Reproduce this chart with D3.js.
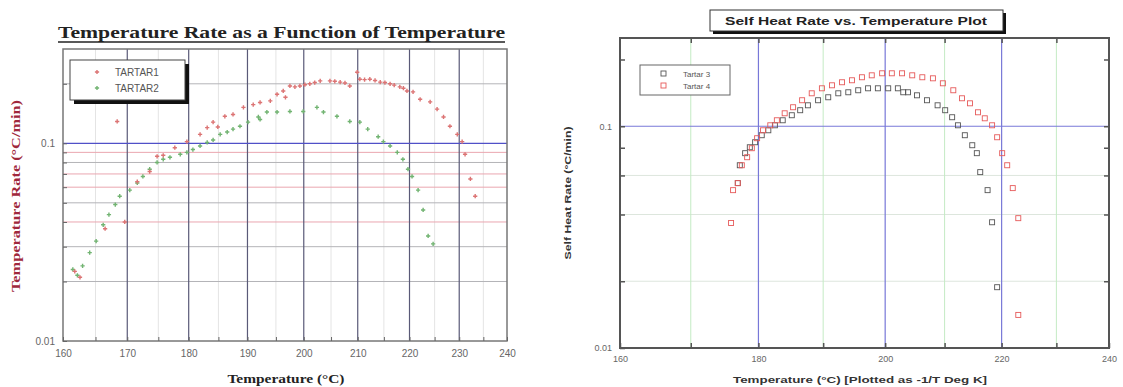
<!DOCTYPE html>
<html>
<head>
<meta charset="utf-8">
<script src="https://cdn.jsdelivr.net/npm/d3@7"></script>
<style>
  body { margin: 0; background: #fff; }
  svg { display: block; }
</style>
</head>
<body>
<svg id="chart" width="1123" height="387"></svg>
<script>
// ---- data (temperature in degC, rate in degC/min) ----
const xTicksLeft = [160, 170, 180, 190, 200, 210, 220, 230, 240];
const xTicksRight = [160, 180, 200, 220, 240];

const tartar1 = [
  [161.8, 0.0225], [162.6, 0.021], [166.5, 0.037], [168.4, 0.129], [169.6, 0.040],
  [171.6, 0.064], [173.6, 0.072], [174.8, 0.086], [175.8, 0.087], [177.7, 0.095],
  [179.7, 0.102], [181.9, 0.111], [183.1, 0.120], [184.1, 0.128], [184.9, 0.121],
  [186.1, 0.137], [187.5, 0.140], [189.3, 0.152], [191.0, 0.157], [192.2, 0.161],
  [194.0, 0.164], [195.2, 0.177], [196.3, 0.184], [196.7, 0.171], [197.5, 0.195],
  [198.4, 0.193], [199.3, 0.195], [200.2, 0.198], [201.1, 0.200], [202.0, 0.203],
  [203.0, 0.207], [204.8, 0.207], [205.7, 0.206], [206.7, 0.204], [207.6, 0.202],
  [208.5, 0.195], [209.9, 0.229], [210.4, 0.211], [211.3, 0.210], [212.3, 0.211],
  [213.3, 0.208], [214.3, 0.204], [215.2, 0.203], [216.2, 0.200], [217.0, 0.197],
  [218.1, 0.193], [218.8, 0.190], [219.5, 0.184], [220.7, 0.182], [222.1, 0.167],
  [224.1, 0.162], [225.5, 0.149], [226.8, 0.136], [228.1, 0.122], [229.6, 0.111],
  [230.6, 0.102], [231.2, 0.088], [232.3, 0.066], [233.3, 0.054]
];

const tartar2 = [
  [161.5, 0.023], [162.2, 0.0215], [163.0, 0.024], [164.1, 0.028], [165.1, 0.032],
  [166.2, 0.0387], [167.1, 0.0436], [168.1, 0.049], [168.8, 0.054], [170.4, 0.058],
  [171.6, 0.063], [172.5, 0.068], [173.6, 0.074], [174.8, 0.080], [175.8, 0.083],
  [176.9, 0.085], [178.6, 0.088], [179.7, 0.090], [180.7, 0.093], [181.9, 0.097],
  [183.1, 0.101], [184.1, 0.104], [185.3, 0.111], [186.5, 0.114], [187.5, 0.118],
  [188.7, 0.122], [190.1, 0.128], [191.9, 0.136], [192.2, 0.132], [193.4, 0.144],
  [195.2, 0.144], [197.5, 0.145], [199.9, 0.145], [202.4, 0.152], [203.6, 0.144],
  [206.1, 0.137], [208.5, 0.129], [210.4, 0.128], [211.9, 0.118], [213.9, 0.108],
  [214.9, 0.102], [216.2, 0.097], [217.6, 0.090], [218.7, 0.083], [219.7, 0.074],
  [220.5, 0.068], [221.7, 0.058], [222.7, 0.046], [223.7, 0.034], [224.7, 0.031]
];

const tartar3 = [
  [176.9, 0.0554], [177.2, 0.0667], [178.0, 0.0756], [178.7, 0.0804], [179.5, 0.0847],
  [180.5, 0.0911], [181.5, 0.0959], [182.5, 0.101], [183.7, 0.1064], [185.1, 0.1121],
  [186.4, 0.1181], [187.6, 0.1243], [189.2, 0.1310], [190.8, 0.1351], [192.4, 0.1408],
  [194.0, 0.1423], [195.6, 0.1453], [197.2, 0.1483], [198.8, 0.1483], [200.5, 0.1483],
  [202.1, 0.1483], [203.0, 0.1423], [203.8, 0.1423], [205.3, 0.1379], [207.0, 0.1310],
  [208.8, 0.1243], [210.1, 0.1181], [211.3, 0.1098], [212.3, 0.1010], [213.5, 0.0911],
  [214.8, 0.0821], [215.6, 0.0756], [216.2, 0.0621], [217.5, 0.0515], [218.3, 0.0369],
  [219.2, 0.0188]
];

const tartar4 = [
  [175.9, 0.0366], [176.2, 0.0515], [176.9, 0.0554], [177.5, 0.0667], [178.3, 0.0725],
  [179.0, 0.0796], [179.8, 0.0883], [180.7, 0.0959], [181.8, 0.101], [182.8, 0.1064],
  [184.0, 0.1144], [185.3, 0.1218], [186.7, 0.1310], [188.2, 0.1408], [189.8, 0.1483],
  [191.4, 0.1530], [193.0, 0.1579], [194.6, 0.1612], [196.2, 0.1663], [197.8, 0.1697],
  [199.5, 0.1733], [201.1, 0.1733], [202.8, 0.1733], [204.5, 0.1697], [206.2, 0.1663],
  [208.0, 0.1645], [209.7, 0.1562], [211.5, 0.1453], [213.0, 0.1337], [214.4, 0.1269],
  [215.8, 0.1156], [217.0, 0.1086], [218.3, 0.1010], [219.2, 0.0892], [220.1, 0.0756],
  [221.0, 0.0667], [222.0, 0.0526], [223.0, 0.0385], [223.0, 0.0141]
];

// ---- helpers ----
const svg = d3.select('#chart');

// x axes are plotted as -1/T (Kelvin), labelled in degC
const invT = t => -1 / (t + 273.15);

function tempScale(lin) {
  const s = t => lin(invT(t));
  s.range = () => lin.range();
  s.domain = () => [160, 240];
  s.copy = () => tempScale(lin.copy());
  return s;
}

function range(a, b, step) {
  const out = [];
  for (let v = a; v <= b + 1e-9; v += step) out.push(+v.toFixed(4));
  return out;
}

// ================= left chart =================
(function leftChart() {
  const m = { left: 63, right: 507, top: 49, bottom: 341 };
  const x = tempScale(d3.scaleLinear().domain([invT(160), invT(240)]).range([m.left, m.right]));
  const y = d3.scaleLog().domain([0.01, 0.3]).range([m.bottom, m.top]);
  const g = svg.append('g');

  // faint minor verticals
  g.selectAll('.vminor').data(range(165, 235, 10)).enter().append('line')
    .attr('x1', d => x(d)).attr('x2', d => x(d))
    .attr('y1', m.top).attr('y2', m.bottom)
    .attr('stroke', '#e4e4e4').attr('stroke-width', 1);

  const pinks = [0.09, 0.07, 0.06, 0.04];
  const greys = [0.08, 0.05, 0.03, 0.02, 0.2];
  g.selectAll('.hp').data(pinks).enter().append('line')
    .attr('x1', m.left).attr('x2', m.right)
    .attr('y1', d => y(d)).attr('y2', d => y(d))
    .attr('stroke', '#eaa6b0').attr('stroke-width', 1);
  g.selectAll('.hg').data(greys).enter().append('line')
    .attr('x1', m.left).attr('x2', m.right)
    .attr('y1', d => y(d)).attr('y2', d => y(d))
    .attr('stroke', '#b4b4b8').attr('stroke-width', 1);

  // major verticals
  g.selectAll('.vmajor').data(xTicksLeft.slice(1, -1)).enter().append('line')
    .attr('x1', d => x(d)).attr('x2', d => x(d))
    .attr('y1', m.top).attr('y2', m.bottom)
    .attr('stroke', '#5a5a78').attr('stroke-width', 1.2);

  g.append('line')
    .attr('x1', m.left).attr('x2', m.right)
    .attr('y1', y(0.1)).attr('y2', y(0.1))
    .attr('stroke', '#5050c8').attr('stroke-width', 1.3);

  // frame
  g.append('rect')
    .attr('x', m.left).attr('y', m.top)
    .attr('width', m.right - m.left).attr('height', m.bottom - m.top)
    .attr('fill', 'none').attr('stroke', '#777').attr('stroke-width', 1.5);

  // axes
  const xAxis = g.append('g')
    .attr('transform', `translate(0, ${m.bottom})`)
    .call(d3.axisBottom(x).tickValues(range(160, 240, 5)).tickSize(-4).tickPadding(9)
      .tickFormat(d => d % 10 === 0 ? d : ''));
  xAxis.select('.domain').remove();
  xAxis.selectAll('line').attr('stroke', '#666');
  xAxis.selectAll('text').attr('font-family', 'Arial, "Liberation Sans", sans-serif')
    .attr('font-size', 10).attr('fill', '#666');

  const yAxis = g.append('g')
    .attr('transform', `translate(${m.left}, 0)`)
    .call(d3.axisLeft(y).tickValues([0.01, 0.02, 0.03, 0.04, 0.05, 0.06, 0.07, 0.08, 0.09, 0.1, 0.2])
      .tickSize(-4).tickPadding(8)
      .tickFormat(d => d === 0.1 ? '0.1' : d === 0.01 ? '0.01' : ''));
  yAxis.select('.domain').remove();
  yAxis.selectAll('line').attr('stroke', '#666');
  yAxis.selectAll('text').attr('font-family', 'Arial, "Liberation Sans", sans-serif')
    .attr('font-size', 10).attr('fill', '#666');

  // data markers (small crosses)
  const cross = d3.symbol().type(d3.symbolCross).size(10);
  g.selectAll('.t2').data(tartar2).enter().append('path')
    .attr('d', cross)
    .attr('transform', d => `translate(${x(d[0])}, ${y(d[1])})`)
    .attr('fill', '#72b472');
  g.selectAll('.t1').data(tartar1).enter().append('path')
    .attr('d', cross)
    .attr('transform', d => `translate(${x(d[0])}, ${y(d[1])})`)
    .attr('fill', '#dc7474');

  // legend
  const lg = g.append('g');
  lg.append('rect').attr('x', 74).attr('y', 64).attr('width', 115).attr('height', 40).attr('fill', '#111');
  lg.append('rect').attr('x', 70).attr('y', 60).attr('width', 115).attr('height', 40)
    .attr('fill', '#fff').attr('stroke', '#444').attr('stroke-width', 1);
  [['TARTAR1', '#dc7474'], ['TARTAR2', '#72b472']].forEach((e, i) => {
    lg.append('path').attr('d', cross).attr('fill', e[1])
      .attr('transform', `translate(97, ${72 + i * 16})`);
    lg.append('text').attr('x', 115).attr('y', 76 + i * 16)
      .attr('font-family', 'Arial, "Liberation Sans", sans-serif').attr('font-size', 10)
      .attr('fill', '#555').text(e[0]);
  });

  // titles
  g.append('text').attr('x', 58).attr('y', 38)
    .attr('font-family', '"Liberation Serif", "Times New Roman", serif')
    .attr('font-weight', 'bold').attr('font-size', 17)
    .attr('textLength', 447).attr('lengthAdjust', 'spacingAndGlyphs')
    .attr('fill', '#222')
    .text('Temperature Rate as a Function of Temperature');
  g.append('line').attr('x1', 58).attr('x2', 505).attr('y1', 42).attr('y2', 42)
    .attr('stroke', '#222').attr('stroke-width', 1.3);

  g.append('text').attr('transform', 'translate(20, 196) rotate(-90)')
    .attr('text-anchor', 'middle')
    .attr('font-family', '"Liberation Serif", "Times New Roman", serif')
    .attr('font-weight', 'bold').attr('font-size', 12)
    .attr('textLength', 192).attr('lengthAdjust', 'spacingAndGlyphs')
    .attr('fill', '#a0283c')
    .text('Temperature Rate (°C/min)');

  g.append('text').attr('x', 286).attr('y', 383)
    .attr('text-anchor', 'middle')
    .attr('font-family', '"Liberation Serif", "Times New Roman", serif')
    .attr('font-weight', 'bold').attr('font-size', 12)
    .attr('textLength', 117).attr('lengthAdjust', 'spacingAndGlyphs')
    .attr('fill', '#222')
    .text('Temperature (°C)');
})();

// ================= right chart =================
(function rightChart() {
  const m = { left: 620, right: 1109, top: 38, bottom: 348 };
  const x = tempScale(d3.scaleLinear().domain([invT(160), invT(240)]).range([m.left, m.right]));
  const y = d3.scaleLog().domain([0.01, 0.25]).range([m.bottom, m.top]);
  const g = svg.append('g');

  g.selectAll('.hpale').data([0.02, 0.04, 0.06]).enter().append('line')
    .attr('x1', m.left).attr('x2', m.right)
    .attr('y1', d => y(d)).attr('y2', d => y(d))
    .attr('stroke', '#dde6dd').attr('stroke-width', 1);

  g.selectAll('.vpale').data([170, 190, 210, 230]).enter().append('line')
    .attr('x1', d => x(d)).attr('x2', d => x(d))
    .attr('y1', m.top).attr('y2', m.bottom)
    .attr('stroke', '#c4ebc4').attr('stroke-width', 1);

  g.selectAll('.vblue').data([180, 200, 220]).enter().append('line')
    .attr('x1', d => x(d)).attr('x2', d => x(d))
    .attr('y1', m.top).attr('y2', m.bottom)
    .attr('stroke', '#7878d8').attr('stroke-width', 1.2);

  g.append('line')
    .attr('x1', m.left).attr('x2', m.right)
    .attr('y1', y(0.1)).attr('y2', y(0.1))
    .attr('stroke', '#7878d8').attr('stroke-width', 1.2);

  g.append('rect')
    .attr('x', m.left).attr('y', m.top)
    .attr('width', m.right - m.left).attr('height', m.bottom - m.top)
    .attr('fill', 'none').attr('stroke', '#555').attr('stroke-width', 2);

  const font = 'Arial, "Liberation Sans", sans-serif';

  const xAxis = g.append('g')
    .attr('transform', `translate(0, ${m.bottom})`)
    .call(d3.axisBottom(x).tickValues(range(160, 240, 10)).tickSize(-5).tickPadding(8)
      .tickFormat(d => xTicksRight.includes(d) ? d : ''));
  xAxis.select('.domain').remove();
  xAxis.selectAll('line').attr('stroke', '#555').attr('stroke-width', 1.5);
  xAxis.selectAll('text').attr('font-family', font).attr('font-size', 9).attr('fill', '#666');

  const xTop = g.append('g')
    .attr('transform', `translate(0, ${m.top})`)
    .call(d3.axisTop(x).tickValues(range(170, 230, 10)).tickSize(-5).tickFormat(''));
  xTop.select('.domain').remove();
  xTop.selectAll('line').attr('stroke', '#555').attr('stroke-width', 1.5);

  const yTicks = [0.02, 0.04, 0.06, 0.08, 0.1, 0.2];
  const yAxis = g.append('g')
    .attr('transform', `translate(${m.left}, 0)`)
    .call(d3.axisLeft(y).tickValues([0.01].concat(yTicks)).tickSize(-5).tickPadding(8)
      .tickFormat(d => d === 0.1 ? '0.1' : d === 0.01 ? '0.01' : ''));
  yAxis.select('.domain').remove();
  yAxis.selectAll('line').attr('stroke', '#555').attr('stroke-width', 1.5);
  yAxis.selectAll('text').attr('font-family', font).attr('font-size', 9).attr('fill', '#666');

  const yRight = g.append('g')
    .attr('transform', `translate(${m.right}, 0)`)
    .call(d3.axisRight(y).tickValues(yTicks).tickSize(-5).tickFormat(''));
  yRight.select('.domain').remove();
  yRight.selectAll('line').attr('stroke', '#555').attr('stroke-width', 1.5);

  // open square markers
  const sq = 5;
  g.selectAll('.t3').data(tartar3).enter().append('rect')
    .attr('x', d => x(d[0]) - sq / 2).attr('y', d => y(d[1]) - sq / 2)
    .attr('width', sq).attr('height', sq)
    .attr('fill', 'none').attr('stroke', '#555').attr('stroke-width', 0.9);
  g.selectAll('.t4').data(tartar4).enter().append('rect')
    .attr('x', d => x(d[0]) - sq / 2).attr('y', d => y(d[1]) - sq / 2)
    .attr('width', sq).attr('height', sq)
    .attr('fill', 'none').attr('stroke', '#e65a5a').attr('stroke-width', 0.9);

  // legend
  const lg = g.append('g');
  lg.append('rect').attr('x', 640).attr('y', 65).attr('width', 90).attr('height', 30)
    .attr('fill', '#fff').attr('stroke', '#666').attr('stroke-width', 1);
  [['Tartar 3', '#555'], ['Tartar 4', '#e65a5a']].forEach((e, i) => {
    lg.append('rect').attr('x', 661).attr('y', 71 + i * 12).attr('width', sq).attr('height', sq)
      .attr('fill', 'none').attr('stroke', e[1]).attr('stroke-width', 0.9);
    lg.append('text').attr('x', 683).attr('y', 77 + i * 12)
      .attr('font-family', font).attr('font-size', 8).attr('fill', '#555').text(e[0]);
  });

  // title box
  g.append('rect').attr('x', 713).attr('y', 13).attr('width', 293).attr('height', 21).attr('fill', '#111');
  g.append('rect').attr('x', 710).attr('y', 10).attr('width', 293).attr('height', 21)
    .attr('fill', '#fff').attr('stroke', '#333').attr('stroke-width', 1);
  g.append('text').attr('x', 725).attr('y', 25)
    .attr('font-family', font).attr('font-weight', 'bold').attr('font-size', 11)
    .attr('textLength', 262).attr('lengthAdjust', 'spacingAndGlyphs')
    .attr('fill', '#222')
    .text('Self Heat Rate vs. Temperature Plot');

  g.append('text').attr('transform', 'translate(571, 193) rotate(-90)')
    .attr('text-anchor', 'middle')
    .attr('font-family', font).attr('font-weight', 'bold').attr('font-size', 9)
    .attr('textLength', 133).attr('lengthAdjust', 'spacingAndGlyphs')
    .attr('fill', '#333')
    .text('Self Heat Rate (°C/min)');

  g.append('text').attr('x', 733).attr('y', 383)
    .attr('font-family', font).attr('font-weight', 'bold').attr('font-size', 9)
    .attr('textLength', 254).attr('lengthAdjust', 'spacingAndGlyphs')
    .attr('fill', '#333')
    .text('Temperature (°C) [Plotted as -1/T Deg K]');
})();
</script>
</body>
</html>
